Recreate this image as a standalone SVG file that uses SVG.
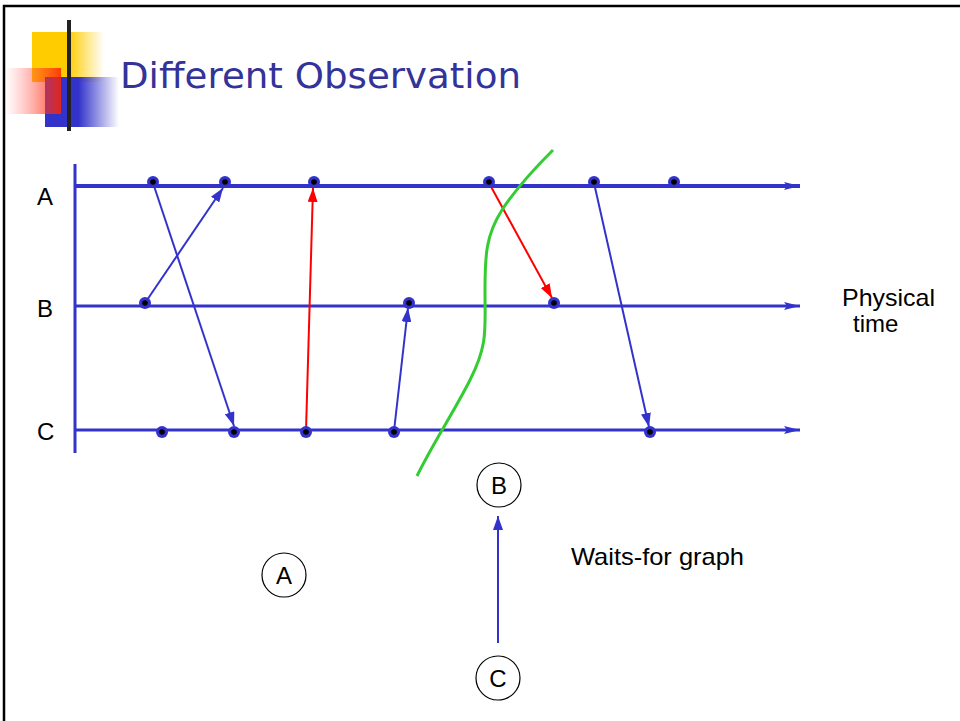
<svg xmlns="http://www.w3.org/2000/svg" width="960" height="721" viewBox="0 0 960 721">
<defs>
<linearGradient id="gy" x1="0" x2="1" y1="0" y2="0"><stop offset="0" stop-color="#ffcc00"/><stop offset="0.5" stop-color="#ffcc00"/><stop offset="1" stop-color="#ffcc00" stop-opacity="0"/></linearGradient>
<linearGradient id="gr" x1="0" x2="1" y1="0" y2="0"><stop offset="0" stop-color="#ff6666" stop-opacity="0"/><stop offset="1" stop-color="#ff2200" stop-opacity="0.85"/></linearGradient>
<linearGradient id="gb" x1="0" x2="1" y1="0" y2="0"><stop offset="0" stop-color="#3333cc"/><stop offset="0.45" stop-color="#3333cc"/><stop offset="1" stop-color="#3333cc" stop-opacity="0"/></linearGradient>
<linearGradient id="gl" x1="0" x2="1" y1="0" y2="0"><stop offset="0" stop-color="#222"/><stop offset="0.4" stop-color="#777"/><stop offset="1" stop-color="#ddd"/></linearGradient>
<marker id="ab" viewBox="0 0 14 10" refX="14" refY="5" markerWidth="14" markerHeight="10" orient="auto" markerUnits="userSpaceOnUse"><path d="M0,0 L14,5 L0,10 z" fill="#3333cc"/></marker>
<marker id="ar" viewBox="0 0 14 10" refX="14" refY="5" markerWidth="14" markerHeight="10" orient="auto" markerUnits="userSpaceOnUse"><path d="M0,0 L14,5 L0,10 z" fill="#ff0000"/></marker>
<marker id="at" viewBox="0 0 16 10" refX="16" refY="5" markerWidth="16" markerHeight="10" orient="auto" markerUnits="userSpaceOnUse"><path d="M0,1 L16,5 L0,9 L3,5 z" fill="#3333cc"/></marker>
<g id="dot"><circle r="6" fill="#3333cc"/><circle r="2.8" fill="#000"/></g>
</defs>
<style>
.tl{stroke:#3333cc;fill:none}
.msgb{stroke:#3333cc;stroke-width:2;fill:none;marker-end:url(#ab)}
.msgr{stroke:#ff0000;stroke-width:2;fill:none;marker-end:url(#ar)}
.lab{font-family:"Liberation Sans",Arial,sans-serif;font-size:24px;fill:#000}
.nl{font-family:"Liberation Sans",Arial,sans-serif;font-size:24px;fill:#000}
.nc{fill:#fff;stroke:#000;stroke-width:1.2}
</style>
<rect width="960" height="721" fill="#fff"/>
<path d="M4,721 V6 H960" fill="none" stroke="#000" stroke-width="2.5"/>
<g id="logo">
<rect x="32" y="32" width="72" height="50" fill="url(#gy)"/>
<rect x="45" y="77" width="74" height="50" fill="url(#gb)"/>
<rect x="5" y="68" width="56" height="46" fill="url(#gr)"/>
<line x1="35" y1="105" x2="960" y2="105" stroke="url(#gl)" stroke-width="3"/>
<line x1="69" y1="20" x2="69" y2="131" stroke="#222" stroke-width="4"/>
</g>
<text x="120" y="88" font-family="'DejaVu Sans',Tahoma,sans-serif" font-size="36" fill="#333399" textLength="401" lengthAdjust="spacingAndGlyphs">Different Observation</text>
<g id="axis">
<line class="tl" x1="75" y1="164" x2="75" y2="453" stroke-width="3"/>
<line class="tl" x1="75" y1="186" x2="800" y2="186" stroke-width="4" marker-end="url(#at)"/>
<line class="tl" x1="75" y1="306" x2="800" y2="306" stroke-width="3" marker-end="url(#at)"/>
<line class="tl" x1="75" y1="430" x2="800" y2="430" stroke-width="3" marker-end="url(#at)"/>
</g>
<g id="labels">
<text class="lab" x="37" y="205">A</text>
<text class="lab" x="37" y="317">B</text>
<text class="lab" x="37" y="440">C</text>
<text class="lab" x="842" y="306" textLength="93" lengthAdjust="spacingAndGlyphs">Physical</text>
<text class="lab" x="853" y="332">time</text>
<text class="lab" x="571" y="565" textLength="173" lengthAdjust="spacingAndGlyphs">Waits-for graph</text>
</g>
<g id="connectors">
<line class="msgb" x1="153" y1="183" x2="234" y2="426"/>
<line class="msgb" x1="145" y1="303" x2="223" y2="188"/>
<line class="msgr" x1="306" y1="431" x2="313" y2="188"/>
<line class="msgb" x1="394" y1="431" x2="408" y2="308"/>
<line class="msgr" x1="489" y1="183" x2="552" y2="298"/>
<line class="msgb" x1="594" y1="183" x2="649" y2="427"/>
<line class="msgb" x1="498" y1="643" x2="498" y2="516"/>
</g>
<g id="events">
<use href="#dot" x="153" y="182"/><use href="#dot" x="225" y="182"/><use href="#dot" x="314" y="182"/><use href="#dot" x="489" y="182"/><use href="#dot" x="594" y="182"/><use href="#dot" x="674" y="182"/>
<use href="#dot" x="145" y="303"/><use href="#dot" x="409" y="303"/><use href="#dot" x="554" y="303"/>
<use href="#dot" x="162" y="432"/><use href="#dot" x="234" y="432"/><use href="#dot" x="306" y="432"/><use href="#dot" x="394" y="432"/><use href="#dot" x="650" y="432"/>
</g>
<path id="cut" d="M553,150 C535,168 515,190 502,210 C486,235 485,255 485,290 C485,330 488,345 470,380 C455,410 432,445 417,476" fill="none" stroke="#33cc33" stroke-width="3"/>
<g id="nodeA"><circle class="nc" cx="284" cy="575" r="22"/><text class="nl" x="284" y="584" text-anchor="middle">A</text></g>
<g id="nodeB"><circle class="nc" cx="499" cy="485" r="22"/><text class="nl" x="499" y="494" text-anchor="middle">B</text></g>
<g id="nodeC"><circle class="nc" cx="498" cy="678" r="22"/><text class="nl" x="498" y="687" text-anchor="middle">C</text></g>
</svg>
